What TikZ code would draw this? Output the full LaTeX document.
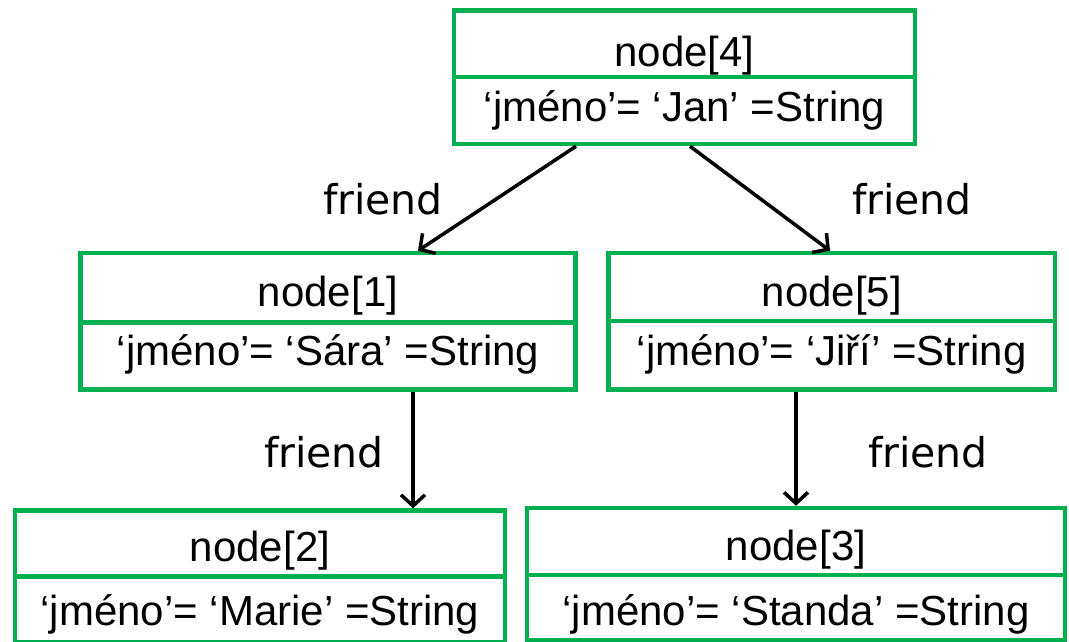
\documentclass[tikz,border=0pt]{standalone}
\usepackage{fontspec}
\setmainfont{Liberation Sans}
\newfontfamily\friendfont{DejaVu Sans}
\usetikzlibrary{arrows.meta}
\definecolor{boxgreen}{HTML}{00B050}
\begin{document}
\begin{tikzpicture}[x=1pt,y=-1pt,
    objbox/.style={draw=boxgreen, line width=4.5pt, inner sep=0pt},
    rowline/.style={draw=boxgreen, line width=4.5pt},
    boxtext/.style={inner sep=0pt, anchor=base, font=\fontsize{42pt}{48pt}\selectfont},
    friend/.style={inner sep=0pt, anchor=base, font=\friendfont\fontsize{41pt}{48pt}\selectfont},
    rel/.style={line width=3.5pt, -{Straight Barb[length=11pt,width=24pt]}}]
    \useasboundingbox (0,0) rectangle (1069,641);
    \foreach \nm/\xa/\xb/\ya/\yd/\yb/\ba/\bb/\nr/\val in {
        n4/454/915/10.5/77/144/66/121/4/Jan,
        n1/80.5/575.5/253/322.5/389.5/306/365/1/Sára,
        n5/608.5/1055/253/321/389.5/306/365/5/Jiří,
        n2/15/505/510.5/576.5/642/561/625/2/Marie,
        n3/527/1065/508/575/640/560/625/3/Standa} {
        \node[objbox, minimum width={(\xb-\xa)*1pt}, minimum height={(\yb-\ya)*1pt}] (\nm) at ({(\xa+\xb)/2},{(\ya+\yb)/2}) {};
        \draw[rowline] (\xa,\yd) -- (\xb,\yd);
        \node[boxtext] (\nm-title) at ({(\xa+\xb)/2},\ba) {node[\nr]};
        \node[boxtext] (\nm-value) at ({(\xa+\xb)/2},\bb) {‘jméno’= ‘\val’ =String};
    }
    % friend links
    \draw[rel] (n4.south -| 576,0) -- (n1.north -| 418,0);
    \draw[rel] (n4.south -| 690,0) -- (n5.north -| 830,0);
    \draw[rel] (n1.south -| 413,0) -- (n2.north -| 413,0);
    \draw[rel] (n5.south -| 796,0) -- (n3.north -| 796,0);
    \node[friend] (f41) at (383,214) {friend};
    \node[friend] (f45) at (912,214) {friend};
    \node[friend] (f12) at (324,467) {friend};
    \node[friend] (f53) at (928,467) {friend};
\end{tikzpicture}
\end{document}
